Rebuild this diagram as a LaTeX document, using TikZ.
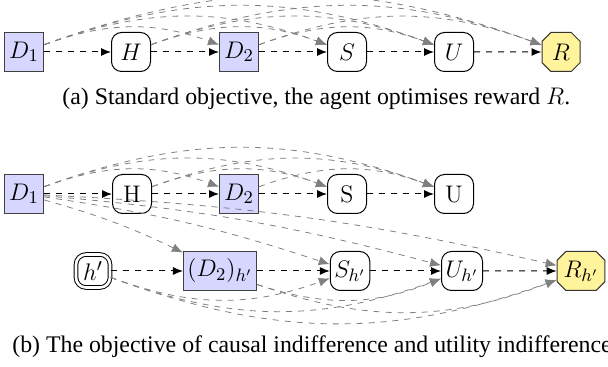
\documentclass[tikz,border=0pt]{standalone}
\usepackage[no-math]{fontspec}
\setmainfont{Liberation Serif}
\usetikzlibrary{arrows.meta,shapes.misc}
\definecolor{decfill}{RGB}{214,214,255}
\definecolor{utilfill}{RGB}{255,243,155}
\tikzset{
  nd/.style={minimum width=19.5pt, minimum height=19.5pt, inner sep=2pt, line width=0.5pt, font=\fontsize{12.5}{14}\selectfont},
  dec/.style={nd, draw=black!75, fill=decfill},
  chance/.style={nd, draw=black, fill=white, rounded corners=5pt},
  util/.style={nd, chamfered rectangle, chamfered rectangle xsep=2.2pt, chamfered rectangle ysep=2.2pt, inner sep=1pt, minimum width=19pt, minimum height=19.5pt, draw=black!80, fill=utilfill},
  inter/.style={nd, draw=black, double, double distance=1.3pt, fill=white, rounded corners=5pt, minimum width=17pt, minimum height=16.5pt},
  blk/.style={-{Latex[length=5pt,width=4pt]}, dashed, black, line width=0.5pt},
  gry/.style={-{Latex[length=5.5pt,width=4.5pt]}, dashed, black!50, line width=0.4pt},
  captxt/.style={anchor=base west, inner sep=0pt, font=\fontsize{11.9}{14}\selectfont}
}
\begin{document}
\begin{tikzpicture}[x=0.5pt,y=-0.5pt]
\useasboundingbox (0,0) rectangle (608,367);
% (a)
\node[dec] (a1) at (24,52) {$D_1$};
\node[chance] (aH) at (131,52) {$H$};
\node[dec] (a2) at (239,52) {$D_2$};
\node[chance] (aS) at (347,52) {$S$};
\node[chance] (aU) at (454,52) {$U$};
\node[util] (aR) at (561,52) {$R$};
\foreach \s/\t in {a1/a2,a1/aS,a1/aU,a1/aR,aH/aS,aH/aU,aH/aR,a2/aU,a2/aR}
  \draw[gry] (\s) to[bend left=20] (\t);
\draw[blk] (a1) -- (aH);
\draw[blk] (aH) -- (a2);
\draw[blk] (a2) -- (aS);
\draw[blk] (aS) -- (aU);
\draw[blk] (aU) -- (aR);
\node[captxt] (capa) at (62,105) {(a) Standard objective, the agent optimises reward $R$.};
% (b)
\node[dec] (b1) at (24,194) {$D_1$};
\node[chance] (bH) at (132,194) {$\mathrm{H}$};
\node[dec] (b2) at (239,194) {$D_2$};
\node[chance] (bS) at (347,194) {$\mathrm{S}$};
\node[chance] (bU) at (454,194) {$\mathrm{U}$};
\node[inter] (hp) at (93,271) {$h'$};
\node[dec] (c2) at (220,271) {$(D_2)_{h'}$};
\node[chance] (cS) at (350,271) {$S_{h'}$};
\node[chance] (cU) at (462,271) {$U_{h'}$};
\node[util] (cR) at (581,271) {$R_{h'}$};
\foreach \s/\t in {b1/b2,b1/bS,b1/bU,bH/bS,bH/bU,b2/bU}
  \draw[gry] (\s) to[bend left=20] (\t);
\foreach \t in {c2,cS,cU,cR}
  \draw[gry] (b1) to[bend left=5] (\t);
\foreach \s/\t in {hp/cS,hp/cU,hp/cR,c2/cU,c2/cR}
  \draw[gry] (\s) to[bend right=20] (\t);
\draw[blk] (b1) -- (bH);
\draw[blk] (bH) -- (b2);
\draw[blk] (b2) -- (bS);
\draw[blk] (bS) -- (bU);
\draw[blk] (hp) -- (c2);
\draw[blk] (c2) -- (cS);
\draw[blk] (cS) -- (cU);
\draw[blk] (cU) -- (cR);
\node[captxt] (capb) at (12,352) {(b) The objective of causal indifference and utility indifference.};
\end{tikzpicture}
\end{document}
